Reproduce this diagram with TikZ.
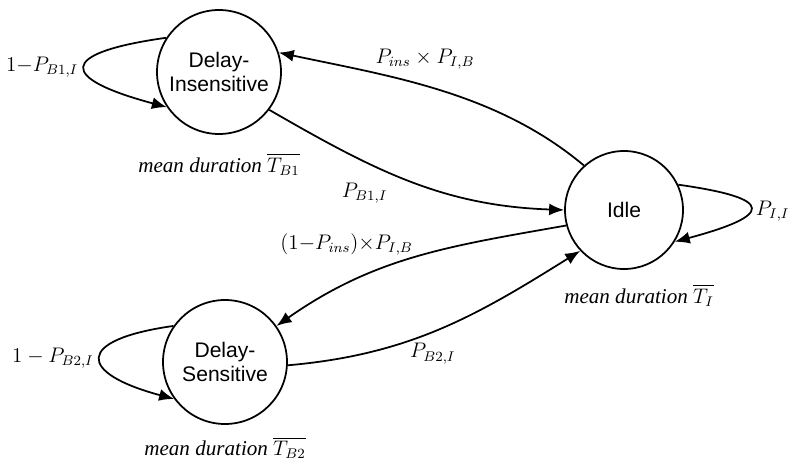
\documentclass[tikz,border=0pt]{standalone}
\usepackage{amsmath,amssymb}
\usepackage{fontspec}
\setmainfont{Liberation Serif}
\setsansfont{Liberation Sans}
\usepackage{tikz}
\usetikzlibrary{arrows.meta,positioning}

\begin{document}
\begin{tikzpicture}[
        font=\large,
        node distance=1mm,
        state/.style={draw, circle, line width=1pt, align=center, minimum size=24.8mm, inner sep=0pt, font=\large\sffamily},
        dur/.style={inner sep=1pt, font=\large\itshape},
        line/.style={-{Latex[length=3mm,width=2.4mm]}, line width=1pt}
    ]
        \useasboundingbox (0,0) rectangle (15.94,9.26);

        \node[state] (ins) at (4.38,7.82) {Delay-\\Insensitive};
        \node[state, minimum size=23.6mm] (idle) at (12.48,5.06) {Idle};
        \node[state] (sens) at (4.50,2.02) {Delay-\\Sensitive};

        \node[dur, below=3.3mm of ins] (durins) {mean duration $\overline{T_{B1}}$};
        \node[dur, below=2.5mm of idle, xshift=3mm] (duridle) {mean duration $\overline{T_I}$};
        \node[dur, below=2mm of sens] (dursens) {mean duration $\overline{T_{B2}}$};

        % self loops
        \draw[line] (ins.147) to[out=188, in=165, looseness=4.1] node[left] {$1{-}P_{B1,I}$} (ins.214);
        \draw[line] (idle.25) to[out=-8, in=15, looseness=4.5] node[pos=0.55, right] {$P_{I,I}$} (idle.-32);
        \draw[line] (sens.145) to[out=188, in=165, looseness=3.5] node[left] {$1-P_{B2,I}$} (sens.216);

        % transitions
        \draw[line] (idle.132) to[out=140, in=-12, looseness=0.9] node[pos=0.55, above=2mm] {$P_{ins}\times P_{I,B}$} (ins.18);
        \draw[line] (ins.-37) to[out=-30, in=178] node[pos=0.33, below=3mm] {$P_{B1,I}$} (idle.180);
        \draw[line] (idle.195) to[out=190, in=35] node[pos=0.75, above=4.5mm] {$(1{-}P_{ins}){\times}P_{I,B}$} (sens.35);
        \draw[line] (sens.-3) to[out=5, in=212] node[pos=0.47, below=1mm] {$P_{B2,I}$} (idle.223);
    \end{tikzpicture}
\end{document}
